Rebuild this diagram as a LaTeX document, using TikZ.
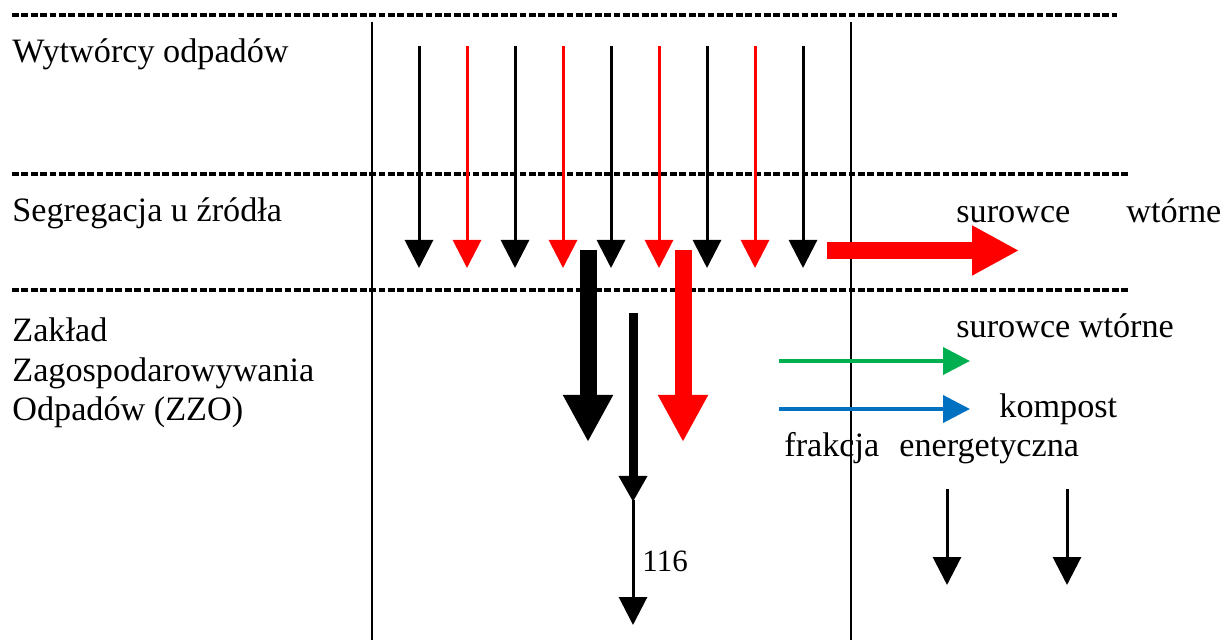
\documentclass[tikz,border=0pt]{standalone}
\usepackage{fontspec}
\setmainfont{Liberation Serif}
\usetikzlibrary{arrows.meta}
\definecolor{gr}{RGB}{0,176,80}
\definecolor{bl}{RGB}{0,112,192}
\begin{document}
\begin{tikzpicture}[x=0.5pt,y=-0.5pt,
 lbl/.style={anchor=base west,inner sep=0pt,font=\fontsize{17.1}{20}\selectfont},
 sep/.style={line width=1.6pt,dash pattern=on 3.4pt off 1.3pt},
 col/.style={line width=1pt},
 sm/.style={line width=1.5pt,-{Triangle[length=14pt,width=14pt]}},
 big/.style={line width=8.5pt,-{Triangle[length=23.5pt,width=23.5pt]}},
 mid/.style={line width=4.5pt,-{Triangle[length=13pt,width=13.5pt]}},
 hor/.style={line width=2pt,-{Triangle[length=13.5pt,width=13.5pt]}},
]
\useasboundingbox (0,0) rectangle (1225,640);
% separators
\draw[sep] (12,15) -- (1117,15);
\draw[sep] (12,174) -- (1130,174);
\draw[sep] (12,290) -- (1130,290);
% columns
\draw[col] (372,22) -- (372,640);
\draw[col] (851,22) -- (851,640);
% labels
\node[lbl] (w) at (12,63) {Wytwórcy odpadów};
\node[lbl] (s) at (12,222) {Segregacja u źródła};
\node[lbl] (z1) at (12,342) {Zakład};
\node[lbl] (z2) at (12,382) {Zagospodarowywania};
\node[lbl] (z3) at (12,421) {Odpadów (ZZO)};
\node[lbl] (sw1) at (956,223) {surowce\hspace{28pt}wtórne};
\node[lbl] (sw2) at (956,338) {surowce wtórne};
\node[lbl] (kp) at (999,418) {kompost};
\node[lbl] (fe) at (784,457) {frakcja\hspace{10pt}energetyczna};
\node[lbl,font=\fontsize{15.5}{18}\selectfont] (n116) at (642,571) {116};
% small arrows
\foreach \x/\c in {419/black,467/red,515/black,563/red,611/black,659/red,707/black,755/red,803/black}
  \draw[sm,\c] (\x,46) -- (\x,268);
% big arrows
\draw[big,red] (827,250.5) -- (1019,250.5);
\draw[big,black] (588,250) -- (588,442);
\draw[big,red] (683,250) -- (683,442);
% thin chain
\draw[mid] (633,313) -- (633,502);
\draw[sm] (633,500) -- (633,625);
% green / blue
\draw[hor,gr] (779,361) -- (970,361);
\draw[hor,bl] (779,409) -- (970,409);
% bottom arrows
\draw[sm] (947,489) -- (947,585);
\draw[sm] (1067,489) -- (1067,585);
\end{tikzpicture}
\end{document}
